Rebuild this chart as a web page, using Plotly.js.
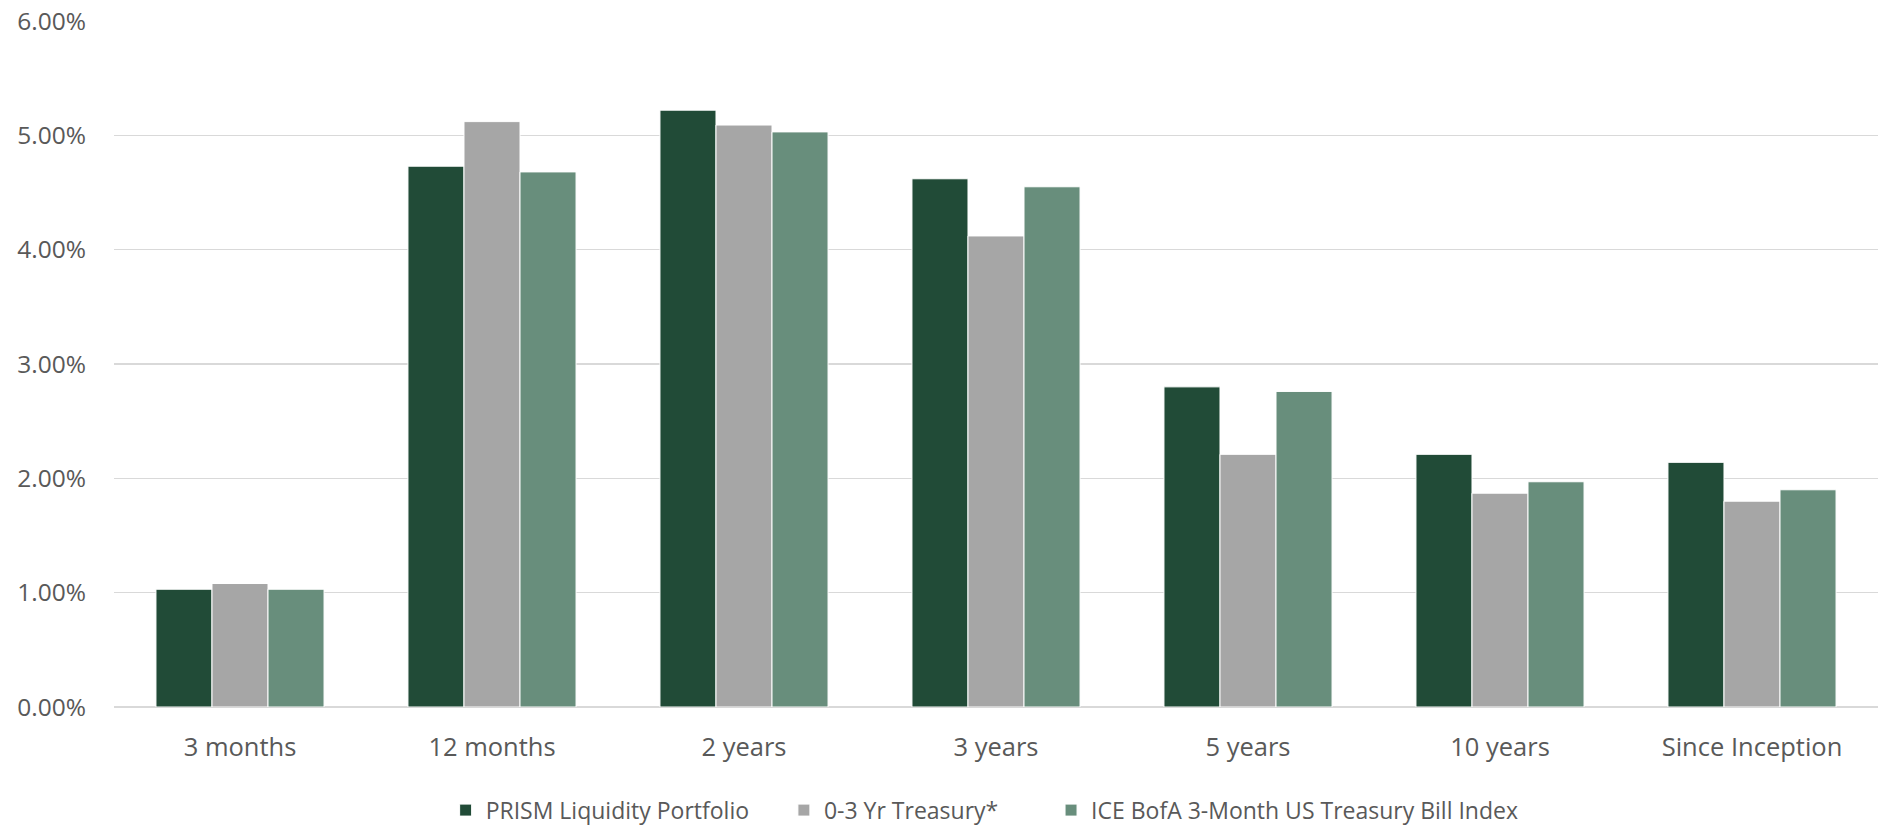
<!DOCTYPE html>
<html>
<head>
<meta charset="utf-8">
<script src="https://cdn.plot.ly/plotly-3.0.1.min.js"></script>
<style>html,body{margin:0;padding:0;background:#fff;}#chart{width:1883px;height:825px;}</style>
</head>
<body>
<div id="chart"></div>
<script>
const categories = ["3 months", "12 months", "2 years", "3 years", "5 years", "10 years", "Since Inception"];
const seriesNames = ["PRISM Liquidity Portfolio", "0-3 Yr Treasury*", "ICE BofA 3-Month US Treasury Bill Index"];
const prism = [1.03, 4.73, 5.22, 4.62, 2.80, 2.21, 2.14];
const treasury03 = [1.08, 5.12, 5.09, 4.12, 2.21, 1.87, 1.80];
const iceBofA = [1.03, 4.68, 5.03, 4.55, 2.76, 1.97, 1.90];
const yTicks = [0, 1, 2, 3, 4, 5, 6];
const colors = ["#214B37", "#A6A6A6", "#688E7C"];

const pads = ["\u00A0".repeat(5), "\u00A0".repeat(8), ""];
const seriesValues = [prism, treasury03, iceBofA];
const traces = seriesValues.map((vals, i) => ({
  type: "bar",
  name: seriesNames[i] + pads[i],
  x: categories,
  y: vals,
  marker: { color: colors[i], line: { color: "#ffffff", width: 1 } },
  hoverinfo: "x+y+name"
}));

const layout = {
  width: 1883,
  height: 825,
  margin: { l: 114, r: 5, t: 21, b: 118 },
  paper_bgcolor: "#ffffff",
  plot_bgcolor: "#ffffff",
  font: { family: "Open Sans, sans-serif", color: "#595959", size: 24 },
  barmode: "group",
  bargap: 0.333,
  bargroupgap: 0,
  showlegend: true,
  legend: {
    orientation: "h",
    x: 0.188,
    xanchor: "left",
    yref: "container",
    y: 0.018,
    yanchor: "middle",
    font: { family: "Open Sans, sans-serif", size: 23, color: "#595959" },
    itemwidth: 30,
    traceorder: "normal"
  },
  xaxis: {
    type: "category",
    tickfont: { size: 25.5, color: "#595959" },
    showgrid: false,
    showline: false,
    zeroline: false,
    ticks: "",
    ticklabelstandoff: 22
  },
  yaxis: {
    range: [0, 6],
    tickvals: yTicks,
    ticktext: yTicks.map(v => v.toFixed(2) + "%"),
    tickfont: { size: 24.5, color: "#595959" },
    showgrid: true,
    gridcolor: "#D9D9D9",
    gridwidth: 1.5,
    zeroline: true,
    zerolinecolor: "#D9D9D9",
    zerolinewidth: 1.5,
    showline: false,
    ticks: "",
    ticklabelstandoff: 27
  }
};

Plotly.newPlot("chart", traces, layout, { displayModeBar: false, staticPlot: true });
</script>
</body>
</html>
